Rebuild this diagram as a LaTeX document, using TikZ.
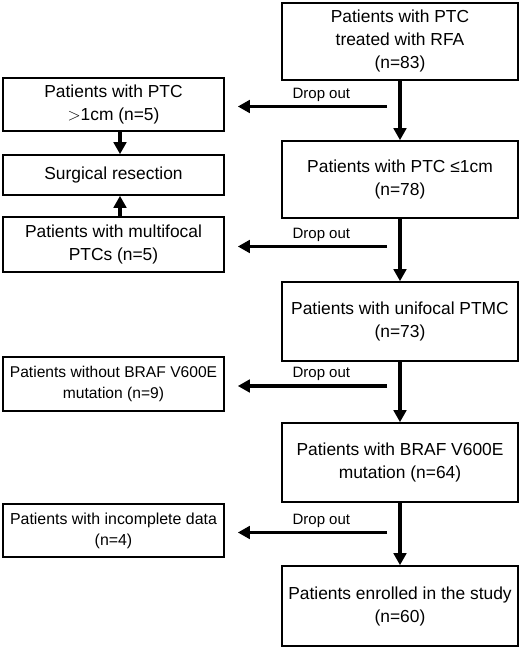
\documentclass[tikz,border=0pt]{standalone}
\usepackage{fontspec}
\setmainfont{Liberation Sans}
\usepackage{tikz}
\usetikzlibrary{arrows.meta,calc}

\begin{document}
\begin{tikzpicture}[x=1pt,y=1pt,
  font=\fontsize{17.4}{23}\selectfont,
  mainbox/.style={draw,line width=1.6pt,align=center,minimum width=236pt,inner sep=2pt},
  sidebox/.style={draw,line width=1.6pt,align=center,minimum width=221pt,inner sep=2pt},
  ar/.style={-{Triangle[length=12pt,width=12.5pt]},line width=3.5pt},
  drop/.style={font=\fontsize{15}{18}\selectfont,above,pos=0.44}]
\useasboundingbox (0,0) rectangle (520,648);
\node[mainbox,minimum height=77pt] (a) at (400,606.5)
  {Patients with PTC\\treated with RFA\\(n=83)};
\node[mainbox,minimum height=77pt] (b) at (400,468.5)
  {Patients with PTC ≤1cm\\(n=78)};
\node[mainbox,minimum height=79pt] (c) at (400,326.5)
  {Patients with unifocal PTMC\\(n=73)};
\node[mainbox,minimum height=79pt] (d) at (400,185.5)
  {Patients with BRAF V600E\\mutation (n=64)};
\node[mainbox,minimum height=80pt] (e) at (400,42)
  {Patients enrolled in the study\\(n=60)};
\node[sidebox,minimum height=53pt] (l1) at (113.5,543.5)
  {Patients with PTC\\$>$1cm (n=5)};
\node[sidebox,minimum height=40pt] (s) at (113.5,473) {Surgical resection};
\node[sidebox,minimum height=55pt] (l2) at (113.5,403.5)
  {Patients with multifocal\\PTCs (n=5)};
\node[sidebox,minimum height=54pt,font=\fontsize{15.6}{21}\selectfont] (l3) at (113.5,264)
  {Patients without BRAF V600E\\mutation (n=9)};
\node[sidebox,minimum height=53pt,font=\fontsize{15.9}{21}\selectfont] (l4) at (113.5,117.5)
  {Patients with incomplete data\\(n=4)};
\foreach \u/\v in {a/b,b/c,c/d,d/e}
  \draw[ar] (\u.south) -- (\v.north);
\foreach \m/\l in {a/l1,b/l2,c/l3,d/l4}
  \draw[ar] ($(\m.south |- \l.east)+(-13,-2)$) -- ($(\l.east)+(13,-2)$)
    node[drop] {Drop out};
\draw[ar] ($(l1.south)+(6.5,0)$) -- ($(s.north)+(6.5,0)$);
\draw[ar] ($(l2.north)+(6.5,0)$) -- ($(s.south)+(6.5,0)$);
\end{tikzpicture}
\end{document}
